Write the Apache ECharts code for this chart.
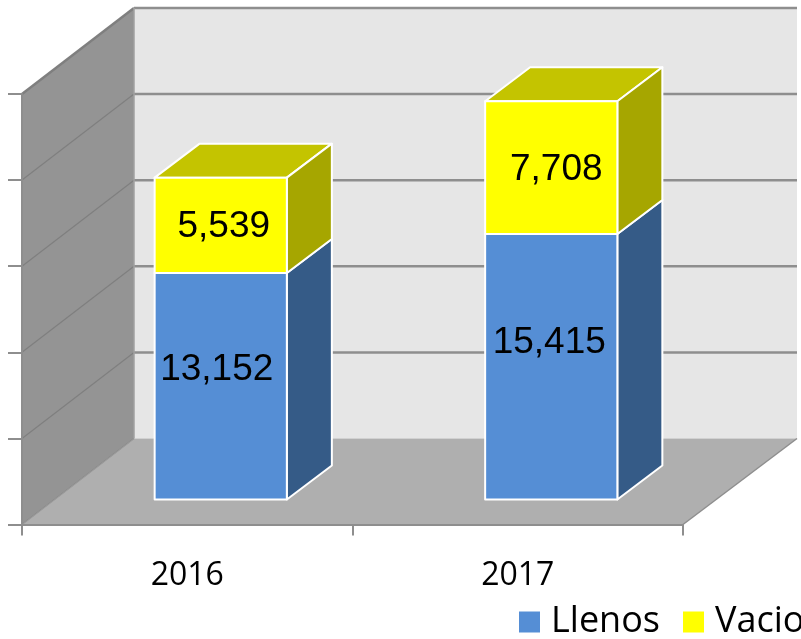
<!DOCTYPE html>
<html>
<head>
<meta charset="utf-8">
<style>
  html, body { margin: 0; padding: 0; background: #fff; overflow: hidden; }
  #chart { width: 801px; height: 639px; }
</style>
<script src="https://cdn.jsdelivr.net/npm/echarts@6/dist/echarts.min.js"></script>
</head>
<body>
<div id="chart"></div>
<script>
const years = ['2016', '2017'];
const llenos = [13152, 15415];
const vacios = [5539, 7708];
const tickValues = [0, 5000, 10000, 15000, 20000, 25000];

const lineGray = '#8e8e8e';
const labelFont = '"Liberation Sans", Arial, sans-serif';
const catFont = '"Open Sans", sans-serif';

// fake 3d depth, px
const wallDx = 112, wallDy = -86;
const boxDx = 45, boxDy = -34;
const boxShiftX = 33.5, boxShiftY = -25;

// labels in the picture are not centred on the faces
const labelNudge = {
  Llenos: [[-4, -16.5], [-2, -23.5]],
  Vacios: [[3, 1.5], [5, 2.5]]
};

function renderWalls(params, api) {
  const g = params.coordSys;
  const x0 = g.x, x1 = g.x + g.width;
  const y0 = g.y + g.height;
  const line = { stroke: lineGray, lineWidth: 2.5, fill: null };
  const children = [
    { type: 'polygon', shape: { points: [[x0, y0], [x0 + wallDx, y0 + wallDy], [x0 + wallDx, g.y + wallDy], [x0, g.y]] }, style: { fill: '#949494' } },
    { type: 'rect', shape: { x: x0 + wallDx, y: g.y + wallDy, width: g.width + 2, height: g.height }, style: { fill: '#e6e6e6' } },
    { type: 'polygon', shape: { points: [[x0, y0], [x0 + wallDx, y0 + wallDy], [x1 + wallDx + 2, y0 + wallDy], [x1, y0]] }, style: { fill: '#afafaf' } }
  ];
  tickValues.forEach(function (t) {
    const y = api.coord([0, t])[1];
    children.push({
      type: 'line',
      shape: { x1: x0, y1: y, x2: x0 + wallDx, y2: y + wallDy },
      style: { stroke: '#7f7f7f', lineWidth: t === 25000 ? 2.5 : 1.2, opacity: t === 0 ? 0.6 : 1 }
    });
    if (t > 0) {
      children.push({
        type: 'line',
        shape: { x1: x0 + wallDx, y1: y + wallDy, x2: x1 + wallDx + 2, y2: y + wallDy },
        style: line
      });
    }
  });
  children.push({
    type: 'line',
    shape: { x1: x0 + wallDx, y1: g.y + wallDy, x2: x0 + wallDx, y2: y0 + wallDy },
    style: { stroke: '#a0a0a0', lineWidth: 1.5 }
  });
  children.push({
    type: 'line',
    shape: { x1: x1, y1: y0, x2: x1 + wallDx + 2, y2: y0 + wallDy },
    style: { stroke: lineGray, lineWidth: 1.5 }
  });
  return { type: 'group', children: children };
}

function makeBoxRenderer(name, front, side, top) {
  return function (params, api) {
    const i = api.value(0);
    const low = api.coord([i, api.value(1)]);
    const high = api.coord([i, api.value(2)]);
    const w = api.size([1, 0])[0] * 0.4;
    const left = low[0] + boxShiftX - w / 2;
    const right = left + w;
    const yb = low[1] + boxShiftY;
    const yt = high[1] + boxShiftY;
    const edge = { stroke: '#fff', lineWidth: 2, lineJoin: 'round' };
    const nudge = labelNudge[name][i];
    return {
      type: 'group',
      children: [
        { type: 'polygon', shape: { points: [[left, yt], [left + boxDx, yt + boxDy], [right + boxDx, yt + boxDy], [right, yt]] }, style: Object.assign({ fill: top }, edge) },
        { type: 'polygon', shape: { points: [[right, yb], [right + boxDx, yb + boxDy], [right + boxDx, yt + boxDy], [right, yt]] }, style: Object.assign({ fill: side }, edge) },
        { type: 'rect', shape: { x: left, y: yt, width: w, height: yb - yt }, style: Object.assign({ fill: front }, edge) },
        {
          type: 'text',
          style: {
            x: (left + right) / 2 + nudge[0],
            y: (yt + yb) / 2 + nudge[1],
            text: (api.value(2) - api.value(1)).toLocaleString('en-US'),
            fill: '#000',
            font: '37px ' + labelFont,
            align: 'center',
            verticalAlign: 'middle'
          }
        }
      ]
    };
  };
}

const chart = echarts.init(document.getElementById('chart'));
chart.setOption({
  animation: false,
  backgroundColor: '#fff',
  grid: { left: 22, top: 94, width: 661, height: 430.5 },
  legend: {
    left: 519,
    top: 604,
    width: 500,
    padding: 0,
    itemWidth: 21,
    itemHeight: 21,
    itemGap: 23,
    icon: 'rect',
    data: [
      { name: 'Llenos', itemStyle: { color: '#558ed5' } },
      { name: 'Vacios', itemStyle: { color: '#ffff00' } }
    ],
    textStyle: { fontFamily: catFont, fontSize: 36, color: '#000', padding: [0, 0, 0, 6] }
  },
  xAxis: {
    type: 'category',
    data: years,
    z: 3,
    axisLine: { lineStyle: { color: lineGray, width: 2 } },
    axisTick: { show: true, interval: 0, length: 11, lineStyle: { color: lineGray, width: 2 } },
    axisLabel: { color: '#000', fontFamily: catFont, fontSize: 32, margin: 35 }
  },
  yAxis: {
    type: 'value',
    min: 0,
    max: 25000,
    interval: 5000,
    z: 3,
    splitLine: { show: false },
    axisLine: { show: true, lineStyle: { color: lineGray, width: 2 } },
    axisTick: { show: true, length: 14, lineStyle: { color: lineGray, width: 2 } },
    axisLabel: { show: false }
  },
  series: [
    {
      type: 'custom',
      name: 'walls',
      z: 1,
      silent: true,
      renderItem: renderWalls,
      data: [[0, 0]],
      encode: { x: 0, y: 1 }
    },
    {
      type: 'custom',
      name: 'Llenos',
      z: 2,
      itemStyle: { color: '#558ed5' },
      renderItem: makeBoxRenderer('Llenos', '#558ed5', '#355b87', '#558ed5'),
      data: years.map(function (y, i) { return [i, 0, llenos[i]]; }),
      encode: { x: 0, y: [1, 2] }
    },
    {
      type: 'custom',
      name: 'Vacios',
      z: 2,
      itemStyle: { color: '#ffff00' },
      renderItem: makeBoxRenderer('Vacios', '#ffff00', '#a6a600', '#c4c400'),
      data: years.map(function (y, i) { return [i, llenos[i], llenos[i] + vacios[i]]; }),
      encode: { x: 0, y: [1, 2] }
    }
  ]
});
</script>
</body>
</html>
